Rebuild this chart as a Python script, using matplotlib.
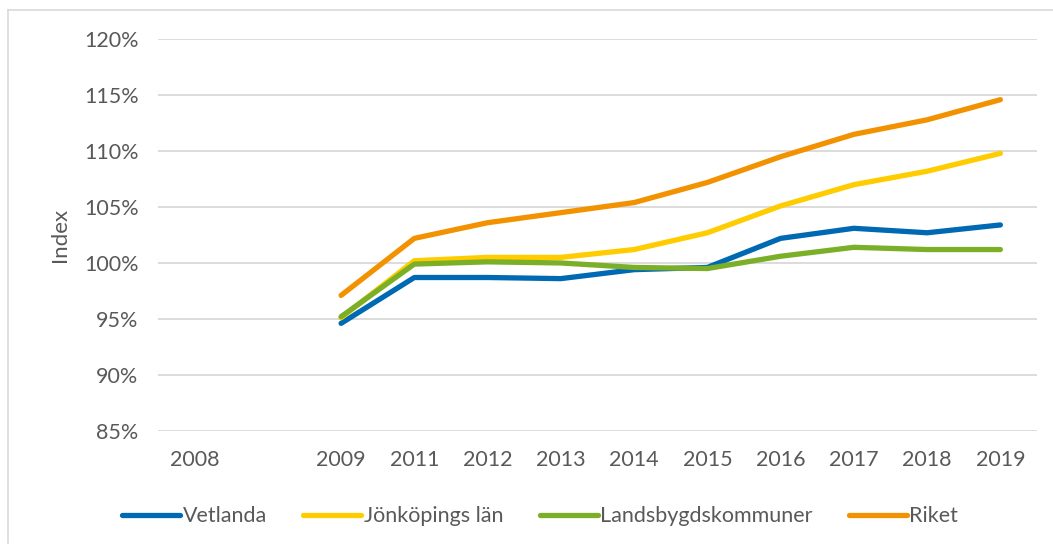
import matplotlib
matplotlib.use("Agg")
import matplotlib.pyplot as plt
from matplotlib.lines import Line2D
from matplotlib.ticker import FuncFormatter

# Categories on the x axis (the empty slot sits between 2008 and 2009)
years = ["2008", "", "2009", "2011", "2012", "2013", "2014", "2015",
         "2016", "2017", "2018", "2019"]

# Index values in percent, None where no value is shown
vetlanda = [None, None, 94.6, 98.7, 98.7, 98.6, 99.4, 99.6, 102.2, 103.1, 102.7, 103.4]
jonkoping = [None, None, 95.1, 100.2, 100.5, 100.5, 101.2, 102.7, 105.1, 107.0, 108.2, 109.8]
landsbygd = [None, None, 95.2, 99.9, 100.1, 100.0, 99.6, 99.5, 100.6, 101.4, 101.2, 101.2]
riket = [None, None, 97.1, 102.2, 103.6, 104.5, 105.4, 107.2, 109.5, 111.5, 112.8, 114.6]

series = [
    ("Vetlanda", vetlanda, "#0069B4"),
    ("Jönköpings län", jonkoping, "#FFCC00"),
    ("Landsbygdskommuner", landsbygd, "#7BAF27"),
    ("Riket", riket, "#F39200"),
]

plt.rcParams["font.family"] = ["Lato", "DejaVu Sans"]
text_color = "#595959"

fig = plt.figure(figsize=(10.53, 5.45), dpi=100)
ax = fig.add_axes([0.150, 0.2097, 0.8348, 0.7182])

x = list(range(len(years)))
for name, vals, color in series:
    xs = [i for i, v in zip(x, vals) if v is not None]
    ys = [v for v in vals if v is not None]
    ax.plot(xs, ys, color=color, lw=3.8, solid_capstyle="round",
            solid_joinstyle="round", label=name)

ax.set_xlim(-0.5, len(years) - 0.5)
ax.set_ylim(85, 120)
ax.set_yticks(range(85, 121, 5))
ax.yaxis.set_major_formatter(FuncFormatter(lambda v, _: f"{v:.0f}%"))
ax.set_xticks(x)
ax.set_xticklabels(years)
ax.grid(axis="y", color="#D9D9D9", lw=1.3)
ax.set_axisbelow(True)
for s in ax.spines.values():
    s.set_visible(False)
ax.tick_params(axis="both", length=0, labelsize=15.5, colors=text_color)
ax.tick_params(axis="y", pad=14)
ax.tick_params(axis="x", pad=14)
ax.set_ylabel("Index", fontsize=16, color=text_color, labelpad=10)

handles = [Line2D([], [], color=c, lw=3.8, solid_capstyle="round") for _, _, c in series]
fig.legend(handles, [n for n, _, _ in series], loc="center",
           bbox_to_anchor=(0.513, 0.053), ncol=4, frameon=False,
           fontsize=15.5, labelcolor=text_color, handlelength=2.7,
           handletextpad=0.1, columnspacing=1.7)

# light border of the chart area (top and left edges visible)
fig.add_artist(Line2D([8 / 1053, 1.0], [1 - 10 / 545] * 2, color="#D9D9D9", lw=1.2))
fig.add_artist(Line2D([8 / 1053] * 2, [1 - 10 / 545, 0.004], color="#D9D9D9", lw=1.2))

fig.savefig("out.png", dpi=100)
